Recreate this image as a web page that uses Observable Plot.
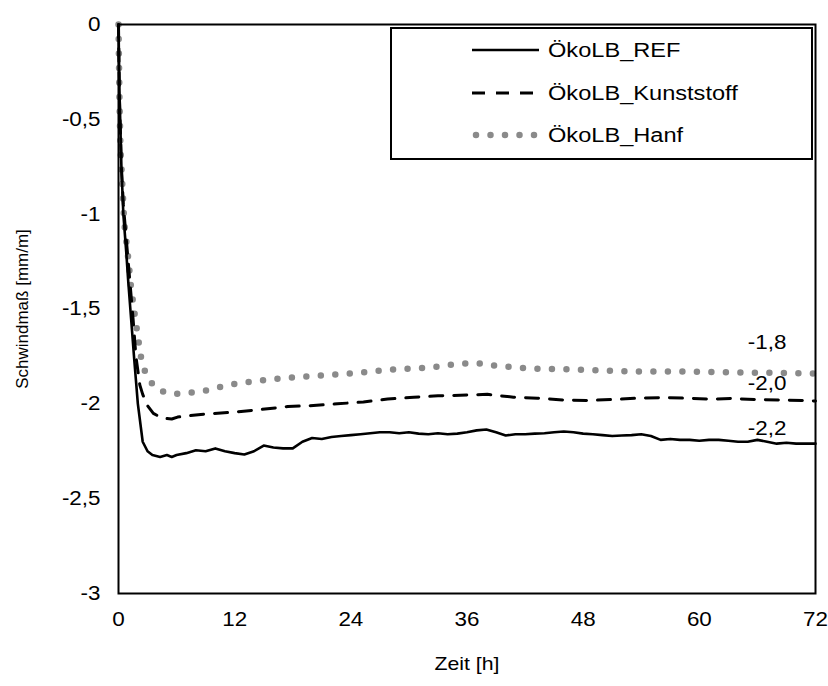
<!DOCTYPE html>
<html>
<head>
<meta charset="utf-8">
<script src="https://cdn.jsdelivr.net/npm/d3@7"></script>
<script src="https://cdn.jsdelivr.net/npm/@observablehq/plot@0.6"></script>
<style>
  body { margin: 0; background: #fff; }
  #wrap { position: relative; width: 828px; height: 686px; font-family: "Liberation Sans", Arial, sans-serif; }
  #legend { position: absolute; left: 390px; top: 27px; width: 419px; height: 129px; border: 2px solid #000; background: #fff; }
  .row { position: absolute; left: 0; height: 30px; width: 419px; }
  .row svg { position: absolute; left: 80px; top: 0; }
  .row span { position: absolute; left: 156px; top: 0; line-height: 30px; font-size: 20px; white-space: nowrap; color: #000; transform: scaleX(1.18); transform-origin: left center; }
</style>
</head>
<body>
<div id="wrap"></div>
<script>
// ---- data ----
const xTicks = [0, 12, 24, 36, 48, 60, 72];
const yTicks = [0, -0.5, -1, -1.5, -2, -2.5, -3];
const seriesNames = ["ÖkoLB_REF", "ÖkoLB_Kunststoff", "ÖkoLB_Hanf"];

const refData = [
  [0,0],[0.1,-0.35],[0.3,-0.75],[0.5,-1.0],[0.8,-1.2],[1.0,-1.35],[1.3,-1.55],[1.6,-1.75],[2.0,-2.0],
  [2.5,-2.2],[3.0,-2.25],[3.5,-2.27],[4.3,-2.28],[5,-2.27],[5.5,-2.28],[6,-2.27],[7,-2.26],[8,-2.245],
  [9,-2.25],[10,-2.235],[11,-2.25],[12,-2.26],[13,-2.267],[14,-2.25],[15,-2.22],[16,-2.23],[17,-2.235],
  [18,-2.235],[19,-2.2],[20,-2.18],[21,-2.185],[22,-2.175],[23,-2.17],[24,-2.165],[25,-2.16],[26,-2.155],
  [27,-2.15],[28,-2.15],[29,-2.155],[30,-2.15],[31,-2.157],[32,-2.16],[33,-2.155],[34,-2.16],[35,-2.157],
  [36,-2.15],[37,-2.14],[38,-2.135],[39,-2.15],[40,-2.167],[41,-2.16],[42,-2.16],[43,-2.157],[44,-2.155],
  [45,-2.15],[46,-2.146],[47,-2.15],[48,-2.157],[49,-2.16],[50,-2.165],[51,-2.17],[52,-2.167],[53,-2.165],
  [54,-2.16],[55,-2.17],[56,-2.19],[57,-2.185],[58,-2.19],[59,-2.19],[60,-2.195],[61,-2.19],[62,-2.19],
  [63,-2.195],[64,-2.2],[65,-2.2],[66,-2.19],[67,-2.2],[68,-2.21],[69,-2.205],[70,-2.21],[71,-2.21],[72,-2.21]
];
const kunstData = [
  [0,0],[0.1,-0.4],[0.3,-0.75],[0.5,-0.95],[1.0,-1.25],[1.5,-1.55],[1.8,-1.75],[2.2,-1.9],[2.5,-1.95],
  [3,-2.01],[3.6,-2.05],[4.5,-2.075],[5.5,-2.08],[6.1,-2.07],[8.5,-2.056],[11.6,-2.045],[14.7,-2.03],
  [17.5,-2.014],[19.8,-2.01],[22.6,-2.0],[25.3,-1.99],[27.8,-1.975],[30.5,-1.965],[33,-1.958],[35.3,-1.955],
  [38.1,-1.95],[40.8,-1.965],[43.3,-1.97],[46,-1.98],[48.5,-1.982],[51.2,-1.977],[53.6,-1.97],[56,-1.967],
  [58.4,-1.97],[61,-1.975],[63.5,-1.972],[66,-1.978],[69,-1.98],[72,-1.985]
];
const hanfData = [
  [0,0],[0.1,-0.4],[0.2,-0.65],[0.4,-0.85],[0.6,-1.05],[1.0,-1.23],[1.3,-1.39],[1.55,-1.48],[1.75,-1.56],
  [2.0,-1.64],[2.2,-1.72],[2.5,-1.8],[3.1,-1.87],[4,-1.925],[5.5,-1.948],[7,-1.945],[9,-1.93],[11,-1.905],
  [12.6,-1.89],[16,-1.87],[19.5,-1.855],[24,-1.84],[28,-1.82],[32,-1.81],[35,-1.79],[37,-1.785],[39,-1.8],
  [43,-1.815],[48,-1.82],[53,-1.83],[59,-1.83],[65,-1.835],[72,-1.84]
];
const endLabels = ["-1,8", "-2,0", "-2,2"];
const endLabelX = [67, 67, 67];
const endLabelY = [-1.676, -1.893, -2.13];

// ---- chart ----
const comma = d => String(d).replace(".", ",");
const toRows = arr => arr.map(([t, v]) => ({t, v}));
const labelRows = endLabels.map((s, i) => ({s, x: endLabelX[i], y: endLabelY[i]}));

const chart = Plot.plot({
  width: 828,
  height: 686,
  marginLeft: 118,
  marginRight: 13,
  marginTop: 24,
  marginBottom: 93,
  style: {fontFamily: '"Liberation Sans", Arial, sans-serif', fontSize: "20px", color: "#000", background: "#fff"},
  x: {domain: [0, 72]},
  y: {domain: [-3, 0]},
  marks: [
    Plot.axisX({ticks: xTicks, tickSize: 0, tickPadding: 18, label: null, fontSize: 20}),
    Plot.axisY({ticks: yTicks, tickSize: 0, tickPadding: 18, tickFormat: comma, label: null, fontSize: 20}),
    Plot.text(["Zeit [h]"], {frameAnchor: "bottom", dy: 70, lineAnchor: "middle", textAnchor: "middle", fontSize: 19}),
    Plot.text(["Schwindmaß [mm/m]"], {frameAnchor: "left", dx: -96, rotate: -90, textAnchor: "middle", lineAnchor: "middle", fontSize: 17, className: "ylab"}),
    Plot.line(toRows(hanfData), {x: "t", y: "v", stroke: "#8a8a8a", strokeWidth: 6.5, strokeDasharray: "0,14.5", strokeLinecap: "round"}),
    Plot.line(toRows(kunstData), {x: "t", y: "v", stroke: "#000", strokeWidth: 3, strokeDasharray: "13,11"}),
    Plot.line(toRows(refData), {x: "t", y: "v", stroke: "#000", strokeWidth: 2.6}),
    Plot.text(labelRows, {x: "x", y: "y", text: "s", fontSize: 20}),
    Plot.frame({stroke: "#000", strokeWidth: 2})
  ]
});

const wrap = document.getElementById("wrap");
wrap.appendChild(chart);

// widen glyphs horizontally to mimic the reference rendering
chart.querySelectorAll("text").forEach(el => {
  if (el.closest(".ylab") || (el.textContent || "").startsWith("Schwind")) return;
  const len = el.getComputedTextLength();
  if (len > 0) {
    el.setAttribute("textLength", (len * 1.12).toFixed(1));
    el.setAttribute("lengthAdjust", "spacingAndGlyphs");
  }
});

// ---- legend (HTML overlay) ----
const legend = document.createElement("div");
legend.id = "legend";
const styles = [
  {stroke: "#000", width: 2.6, dash: null, cap: "butt"},
  {stroke: "#000", width: 3, dash: "13,11", cap: "butt"},
  {stroke: "#8a8a8a", width: 6.5, dash: "0,14.5", cap: "round"}
];
const rowTops = [6, 49, 91];
seriesNames.forEach((name, i) => {
  const row = document.createElement("div");
  row.className = "row";
  row.style.top = rowTops[i] + "px";
  const st = styles[i];
  row.innerHTML = `<svg width="70" height="30"><line x1="${st.cap === "round" ? 4 : 0}" x2="67" y1="15" y2="15" stroke="${st.stroke}" stroke-width="${st.width}" ${st.dash ? `stroke-dasharray="${st.dash}"` : ""} stroke-linecap="${st.cap}"/></svg><span>${name}</span>`;
  legend.appendChild(row);
});
wrap.appendChild(legend);
</script>
</body>
</html>
